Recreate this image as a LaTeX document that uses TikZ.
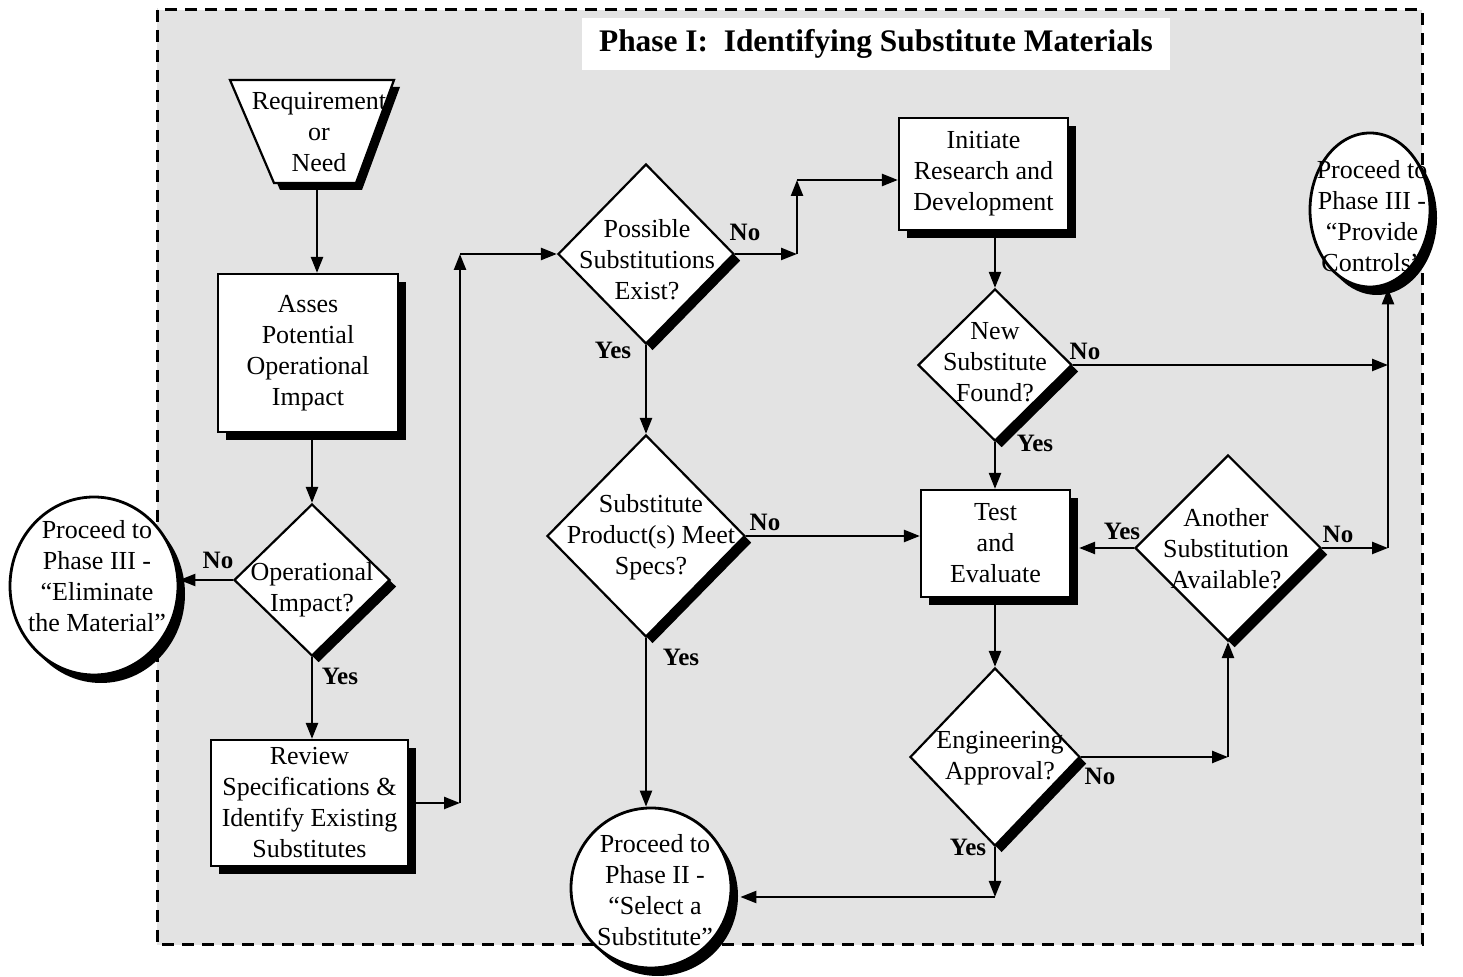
\documentclass[tikz,border=0pt]{standalone}
\usepackage{fontspec}
\setmainfont{Liberation Serif}
\usetikzlibrary{shapes.geometric,shadows,arrows.meta}
\begin{document}
\begin{tikzpicture}[x=0.5pt,y=-0.5pt,
  every node/.style={font=\fontsize{13}{15.5}\selectfont, align=center, inner sep=0pt},
  shad/.style={drop shadow={shadow xshift=#1, shadow yshift=-#1, opacity=1, fill=black}},
  pbox/.style={draw, line width=1.1pt, fill=white, rectangle, shad=4pt},
  dia/.style={draw, line width=1.1pt, fill=white, diamond, shad=3.3pt},
  ell/.style={draw, line width=1.4pt, fill=white, ellipse, drop shadow={shadow xshift=3.5pt, shadow yshift=-4pt, opacity=1, fill=black}},
  lbl/.style={font=\fontsize{12.5}{14}\selectfont\bfseries},
  arr/.style={line width=1.2pt, -{Triangle[length=8pt,width=6pt]}},
]
\fill[white] (0,0) rectangle (1463,977);
\useasboundingbox (0,0) rectangle (1463,977);
% frame
\draw[fill=black!11, line width=1.5pt, dash pattern=on 6pt off 4pt] (157,10) rectangle (1422,945);
% title
\node[fill=white, minimum width=294pt, minimum height=26pt, font=\fontsize{15.7}{18}\selectfont\bfseries] (title) at (876,44) {Phase I:~~Identifying Substitute Materials};
% start trapezoid
\draw[line width=1.1pt, fill=white, drop shadow={shadow xshift=3pt, shadow yshift=-3.5pt, opacity=1, fill=black}] (230,80) -- (394,80) -- (356,183) -- (274,183) -- cycle;
\node (req) at (319,132) {Requirement\\or\\Need};
\coordinate (reqb) at (317,183);
% shapes
\node[pbox, minimum width=90pt, minimum height=79pt] (asses) at (308,353) {Asses\\Potential\\Operational\\Impact};
\node[dia, minimum width=78pt, minimum height=76pt] (op) at (312,580) {};
\node (opt) at (312,590) {Operational\\Impact?};
\node[ell, minimum width=84pt, minimum height=89pt] (elim) at (94,586) {};
\node (elimt) at (97,576) {Proceed to\\Phase III -\\“Eliminate\\the Material”};
\node[pbox, minimum width=98.5pt, minimum height=63pt] (rev) at (309.5,803) {Review\\Specifications \&\\Identify Existing\\Substitutes};
\node[dia, minimum width=88pt, minimum height=90pt] (poss) at (646,254) {};
\node (posst) at (647,259.5) {Possible\\Substitutions\\Exist?};
\node[dia, minimum width=99pt, minimum height=101pt] (subst) at (646,536) {};
\node (substt) at (651,537) {Substitute\\Product(s) Meet\\Specs?};
\node[ell, minimum width=80pt, minimum height=80pt] (ph2) at (651,888) {};
\node (ph2t) at (655,890) {Proceed to\\Phase II -\\“Select a\\Substitute”};
\node[pbox, minimum width=84.5pt, minimum height=56pt] (init) at (983.5,174) {Initiate\\Research and\\Development};
\node[dia, minimum width=77pt, minimum height=76pt] (newsub) at (995,365) {};
\node (newsubt) at (995,362) {New\\Substitute\\Found?};
\node[pbox, minimum width=74.5pt, minimum height=53.5pt] (test) at (995.5,543.5) {Test\\and\\Evaluate};
\node[dia, minimum width=93pt, minimum height=93pt] (anoth) at (1228,548) {};
\node (anotht) at (1226,549) {Another\\Substitution\\Available?};
\node[dia, minimum width=85pt, minimum height=89pt] (eng) at (995,757) {};
\node (engt) at (1000,758) {Engineering\\Approval?};
\node[ell, minimum width=60pt, minimum height=77pt] (ctrl) at (1370,210) {};
\node (ctrlt) at (1372,216.5) {Proceed to\\Phase III -\\“Provide\\Controls”};
% labels
\node[lbl] (l1) at (218,560) {No};
\node[lbl] (l2) at (340,676) {Yes};
\node[lbl] (l3) at (745,232) {No};
\node[lbl] (l4) at (613,350) {Yes};
\node[lbl] (l5) at (765,522) {No};
\node[lbl] (l6) at (681,657) {Yes};
\node[lbl] (l7) at (1085,351) {No};
\node[lbl] (l8) at (1035,443) {Yes};
\node[lbl] (l9) at (1122,531) {Yes};
\node[lbl] (l10) at (1338,534) {No};
\node[lbl] (l11) at (1100,776) {No};
\node[lbl] (l12) at (968,847) {Yes};
% junctions
\coordinate (c1) at (460,803);
\coordinate (c2) at (460,254);
\coordinate (c3) at (797,254);
\coordinate (c4) at (797,180);
\coordinate (c5) at (1388,365);
\coordinate (c6) at (1388,548);
\coordinate (c7) at (anoth.south |- eng.east);
\coordinate (c8) at (995,897);
% connectors
\draw[arr] (reqb) -- (reqb |- asses.north);
\draw[arr] (op.north |- asses.south) -- (op.north);
\draw[arr] (op.west) -- (op.west -| elim.east);
\draw[arr] (op.south) -- (op.south |- rev.north);
\draw[arr] (rev.east) -- (c1);
\draw[arr] (c1) -- (c2);
\draw[arr] (c2) -- (poss.west);
\draw[arr] (poss.east) -- (c3);
\draw[arr] (c3) -- (c4);
\draw[arr] (c4) -- (c4 -| init.west);
\draw[arr] (poss.south) -- (subst.north);
\draw[arr] (subst.east) -- (subst.east -| test.west);
\draw[arr] (subst.south) -- (subst.south |- ph2.north);
\draw[arr] (newsub.north |- init.south) -- (newsub.north);
\draw[arr] (newsub.east) -- (c5);
\draw[arr] (newsub.south) -- (newsub.south |- test.north);
\draw[arr] (anoth.west) -- ([xshift=4pt]anoth.west -| test.east);
\draw[arr] (anoth.east) -- (c6);
\draw[arr] (c6) -- (c6 |- ctrl.south);
\draw[arr] (eng.north |- test.south) -- (eng.north);
\draw[arr] (eng.east) -- (c7);
\draw[arr] (c7) -- (anoth.south);
\draw[arr] (eng.south) -- (c8);
\draw[arr] (c8) -- ([xshift=4pt]c8 -| ph2.east);
\end{tikzpicture}
\end{document}
